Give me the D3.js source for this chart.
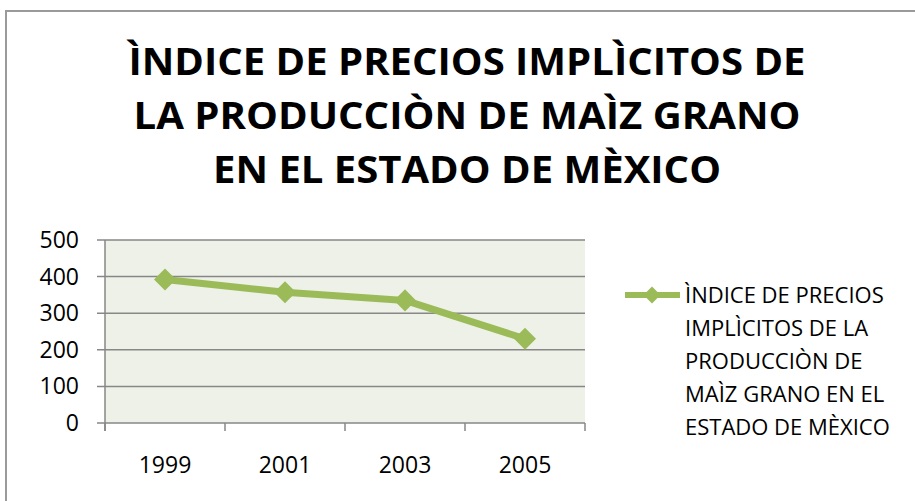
<!DOCTYPE html>
<html><head><meta charset="utf-8">
<script src="https://cdn.jsdelivr.net/npm/d3@7"></script>
<style>body{margin:0;background:#fff}svg{display:block}</style>
</head><body><svg id="c" width="915" height="501"></svg>
<script>
const titleLines = ["ÌNDICE DE PRECIOS IMPLÌCITOS DE", "LA PRODUCCIÒN DE MAÌZ GRANO", "EN EL ESTADO DE MÈXICO"];
const years = ["1999", "2001", "2003", "2005"];
const values = [392, 357, 335, 230];
const yTicks = [0, 100, 200, 300, 400, 500];
const legendLines = ["ÌNDICE DE PRECIOS", "IMPLÌCITOS DE LA", "PRODUCCIÒN DE", "MAÌZ GRANO EN EL", "ESTADO DE MÈXICO"];

const svg = d3.select("#c");
const font = "'Open Sans', sans-serif";
const green = "#9bbb59";

svg.append("rect").attr("x", 6).attr("y", 11).attr("width", 1000).attr("height", 600)
  .attr("fill", "#fff").attr("stroke", "#9a9a9a").attr("stroke-width", 2);

const titleW = [677, 667, 508];
svg.append("g").selectAll("text").data(titleLines).join("text")
  .attr("x", 467).attr("y", (d, i) => 75 + i * 54)
  .attr("text-anchor", "middle").attr("font-family", font).attr("font-weight", "bold")
  .attr("font-size", 38).attr("fill", "#000")
  .attr("textLength", (d, i) => titleW[i]).attr("lengthAdjust", "spacingAndGlyphs")
  .text(d => d);

const L = 105, R = 585, T = 240, B = 423;
const x = d3.scaleBand().domain(years).range([L, R]);
const y = d3.scaleLinear().domain([0, 500]).range([B, T]);

svg.append("rect").attr("x", L).attr("y", T).attr("width", R - L).attr("height", B - T).attr("fill", "#eef1e8");

svg.append("g").selectAll("line").data(yTicks).join("line")
  .attr("x1", L - 8).attr("x2", R).attr("y1", d => y(d)).attr("y2", d => y(d))
  .attr("stroke", "#878787").attr("stroke-width", 1.5);

svg.append("line").attr("x1", L).attr("x2", L).attr("y1", T).attr("y2", B + 8)
  .attr("stroke", "#878787").attr("stroke-width", 1.5);
const xt = years.map(d => x(d)).concat([R]);
svg.append("g").selectAll("line").data(xt).join("line")
  .attr("x1", d => d).attr("x2", d => d).attr("y1", B).attr("y2", B + 8)
  .attr("stroke", "#878787").attr("stroke-width", 1.5);

svg.append("g").selectAll("text").data(yTicks).join("text")
  .attr("x", 79).attr("y", d => y(d) + 8).attr("text-anchor", "end")
  .attr("font-family", font).attr("font-size", 23).attr("fill", "#000").text(d => d);

svg.append("g").selectAll("text").data(years).join("text")
  .attr("x", d => x(d) + x.bandwidth() / 2).attr("y", 473).attr("text-anchor", "middle")
  .attr("font-family", font).attr("font-size", 23).attr("fill", "#000").text(d => d);

const pts = years.map((d, i) => [x(d) + x.bandwidth() / 2, y(values[i])]);
svg.append("path").attr("d", d3.line()(pts)).attr("fill", "none")
  .attr("stroke", green).attr("stroke-width", 7).attr("stroke-linejoin", "round");
const diamond = d3.symbol().type(d3.symbolDiamond2).size(310);
svg.append("g").selectAll("path").data(pts).join("path")
  .attr("transform", d => `translate(${d[0]},${d[1]})`).attr("d", diamond).attr("fill", green);

svg.append("line").attr("x1", 625).attr("x2", 680).attr("y1", 295).attr("y2", 295)
  .attr("stroke", green).attr("stroke-width", 6);
svg.append("path").attr("transform", "translate(652,295)")
  .attr("d", d3.symbol().type(d3.symbolDiamond2).size(185)).attr("fill", green);
svg.append("g").selectAll("text").data(legendLines).join("text")
  .attr("x", 685).attr("y", (d, i) => 303 + i * 33)
  .attr("font-family", font).attr("font-size", 22).attr("fill", "#000").text(d => d);
</script></body></html>
